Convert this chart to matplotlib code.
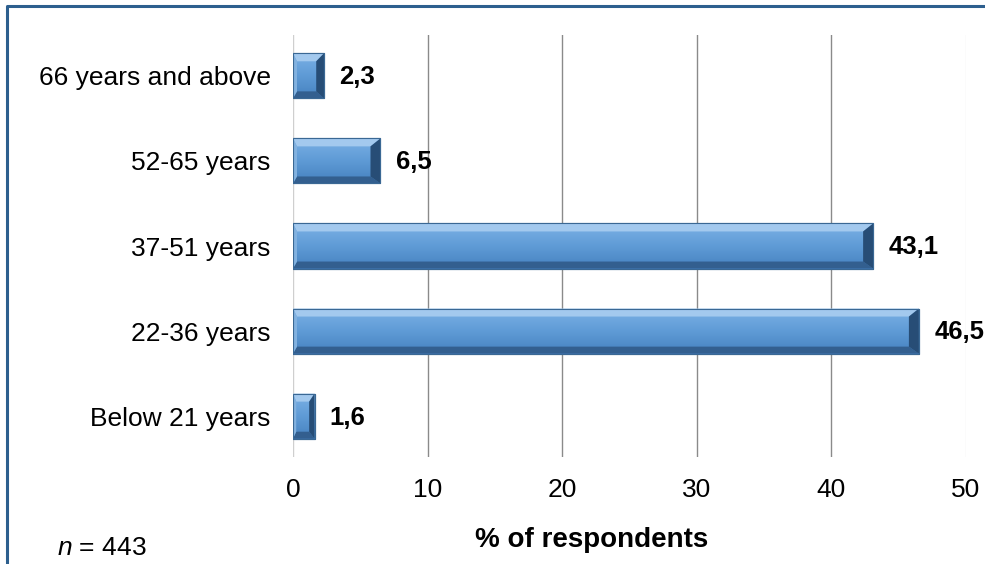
import numpy as np
import matplotlib.pyplot as plt
from matplotlib.patches import Polygon
from matplotlib.lines import Line2D
from matplotlib.colors import LinearSegmentedColormap

plt.rcParams['font.family'] = ['Liberation Sans', 'DejaVu Sans']
plt.rcParams['mathtext.fontset'] = 'custom'
plt.rcParams['mathtext.it'] = 'Liberation Sans:italic'
plt.rcParams['mathtext.rm'] = 'Liberation Sans'

# age groups, bottom to top
groups = ['Below 21 years', '22-36 years', '37-51 years', '52-65 years', '66 years and above']
share = [1.6, 46.5, 43.1, 6.5, 2.3]
value_labels = ['1,6', '46,5', '43,1', '6,5', '2,3']
xticks = [0, 10, 20, 30, 40, 50]

W, H = 985, 564
fig = plt.figure(figsize=(W / 100, H / 100), dpi=100)
ax = fig.add_axes([293 / W, 1 - 457 / H, 673 / W, 422 / H])
xmax = 50
ylo, yhi = -0.48, 4.48

# gridlines: light at the ends, grey in between
grid_cols = ['#cfcfcf', '#8a8a8a', '#8a8a8a', '#8a8a8a', '#8a8a8a', '#ececec']
for t, c in zip(xticks, grid_cols):
    ax.axvline(t, color=c, lw=1, zorder=0)

ypos = np.arange(len(groups))
bh = 0.53
bars = ax.barh(ypos, share, height=bh, color='#5b9bd5', edgecolor='#2f5b86',
               linewidth=0.8, zorder=2)

# pixel -> data scale for the bevel widths
px_x = 673 / xmax
px_y = 422 / (yhi - ylo)
face_cmap = LinearSegmentedColormap.from_list('face', ['#4682c0', '#5f9bd6', '#7cb1e6'])
grad = np.linspace(0, 1, 64).reshape(-1, 1)

for bar, v, yc in zip(bars, share, ypos):
    x0, x1 = 0, v
    y0, y1 = yc - bh / 2, yc + bh / 2
    wpx = v * px_x
    bl = min(4, wpx * 0.15) / px_x
    br = min(10, wpx * 0.25) / px_x
    bt = 8 / px_y
    bb = 7 / px_y
    im = ax.imshow(grad, extent=[x0, x1, y0, y1], origin='lower', cmap=face_cmap,
                   aspect='auto', zorder=2.1, interpolation='bilinear')
    im.set_clip_path(bar)
    xi0, xi1 = x0 + bl, x1 - br
    yi0, yi1 = y0 + bb, y1 - bt
    sides = [
        ([(x0, y1), (x1, y1), (xi1, yi1), (xi0, yi1)], '#a3c9ee'),
        ([(x0, y0), (x1, y0), (xi1, yi0), (xi0, yi0)], '#335f8f'),
        ([(x0, y0), (x0, y1), (xi0, yi1), (xi0, yi0)], '#82b2e0'),
        ([(x1, y0), (x1, y1), (xi1, yi1), (xi1, yi0)], '#274d76'),
    ]
    for pts, col in sides:
        ax.add_patch(Polygon(pts, closed=True, facecolor=col, edgecolor='none',
                             zorder=2.2))
    ax.add_patch(Polygon([(x0, y0), (x1, y0), (x1, y1), (x0, y1)], closed=True,
                         facecolor='none', edgecolor='#3a6894', lw=0.8, zorder=2.3))

for v, yc, lab in zip(share, ypos, value_labels):
    ax.annotate(lab, xy=(v, yc), xytext=(11, -1), textcoords='offset points',
                ha='left', va='center', fontsize=18.5, fontweight='bold',
                annotation_clip=False, zorder=3)

ax.set_xlim(0, xmax)
ax.set_ylim(ylo, yhi)
ax.set_xticks(xticks)
ax.set_yticks(ypos)
ax.set_yticklabels(groups)
ax.tick_params(axis='both', length=0, labelsize=19)
ax.tick_params(axis='y', pad=16)
ax.tick_params(axis='x', pad=15)
for s in ax.spines.values():
    s.set_visible(False)

fig.text(592 / W, 1 - 540 / H, '% of respondents', ha='center', va='center',
         fontsize=20, fontweight='bold')
fig.text(57 / W, 1 - 548 / H, '$n$ = 443', ha='left', va='center', fontsize=19)

# frame of the chart area (cut off at right and bottom)
fig.add_artist(Line2D([7 / W, 7 / W, 1.0], [0.0, 1 - 6 / H, 1 - 6 / H],
                      transform=fig.transFigure, color='#2d5f8e', lw=2.2))

fig.savefig('out.png', dpi=100)
